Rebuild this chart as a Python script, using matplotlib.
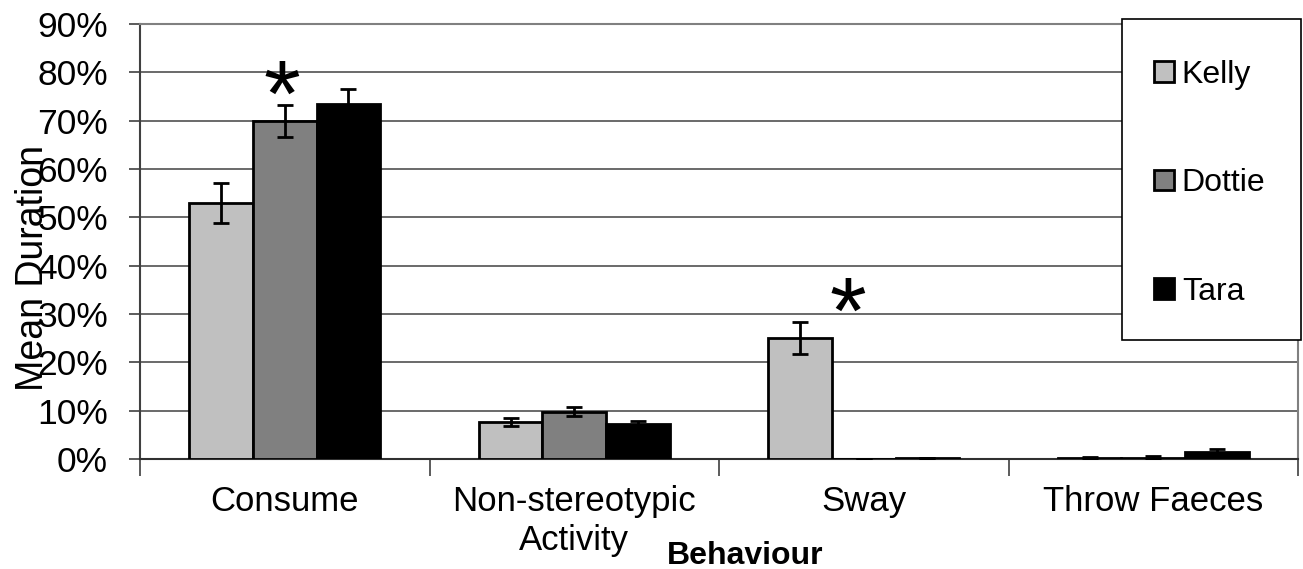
import numpy as np
import matplotlib
matplotlib.use("Agg")
import matplotlib.pyplot as plt
from matplotlib.patches import Rectangle
from matplotlib.ticker import PercentFormatter

plt.rcParams['font.family'] = ['Liberation Sans', 'DejaVu Sans']

categories = ["Consume", "Non-stereotypic\nActivity", "Sway", "Throw Faeces"]
names = ["Kelly", "Dottie", "Tara"]
colors = ["#c0c0c0", "#808080", "#000000"]

kelly = [0.53, 0.077, 0.25, 0.002]
dottie = [0.70, 0.098, 0.0, 0.003]
tara = [0.735, 0.073, 0.003, 0.015]

kelly_err = [0.042, 0.008, 0.033, 0.002]
dottie_err = [0.033, 0.010, 0.0, 0.003]
tara_err = [0.031, 0.005, 0.0, 0.006]

# significance stars: (category index, offset in bar widths, height)
stars = [(0, -0.05, 0.76), (2, -0.25, 0.312)]

fig = plt.figure(figsize=(13.03, 5.69), dpi=100)
ax = fig.add_axes([140 / 1303, 1 - 459 / 569, 1158 / 1303, 435 / 569])

x = np.arange(len(categories))
w = 0.22
series = [kelly, dottie, tara]
errs = [kelly_err, dottie_err, tara_err]
for i, (vals, e) in enumerate(zip(series, errs)):
    pos = x + (i - 1) * w
    ax.bar(pos, vals, width=w, color=colors[i], edgecolor="black",
           linewidth=2, label=names[i], zorder=3)
    ax.errorbar(pos, vals, yerr=e, fmt="none", ecolor="black",
                elinewidth=2, capsize=6, capthick=2, zorder=4)

for ci, off, h in stars:
    ax.text(x[ci] + off * w, h, "*", ha="center", va="center_baseline",
            fontsize=68, zorder=5)

ax.set_xlim(-0.5, len(categories) - 0.5)
ax.set_ylim(0, 0.9)
ax.set_yticks(np.arange(0, 0.91, 0.1))
ax.yaxis.set_major_formatter(PercentFormatter(1.0, decimals=0))
ax.tick_params(axis="y", labelsize=25.5, length=8, width=1.2, direction="out",
               color="#404040", pad=15)
ax.yaxis.grid(True, color="#505050", linewidth=1.2, zorder=0)
ax.set_axisbelow(True)

ax.set_xticks(x)
ax.set_xticklabels(categories, fontsize=25, linespacing=1.2)
ax.tick_params(axis="x", length=0, pad=19)
ax.set_xticks(np.arange(-0.5, len(categories) - 0.4, 1), minor=True)
ax.tick_params(axis="x", which="minor", length=12, width=1.2, color="#404040")

for side in ["left", "right", "top"]:
    ax.spines[side].set_color("#808080")
    ax.spines[side].set_linewidth(1.5)
ax.spines["left"].set_color("#404040")
ax.spines["bottom"].set_color("#303030")
ax.spines["bottom"].set_linewidth(1.5)

# the overlap with the tick labels is as in the original
ax.set_ylabel("Mean Duration", fontsize=27)
ax.yaxis.set_label_coords(-0.077, 0.44)
fig.text(745 / 1303, 5 / 569, "Behaviour", fontsize=23, fontweight="bold",
         ha="center", va="baseline")

# legend box drawn separately (tall, narrow frame)
fig.patches.append(Rectangle((1122 / 1303, 1 - 340 / 569), 179 / 1303, 321 / 569,
                             transform=fig.transFigure, facecolor="white",
                             edgecolor="black", linewidth=1.2, zorder=4))
leg = fig.legend(loc="upper left", bbox_to_anchor=(1154 / 1303, 1 - 60 / 569),
                 fontsize=23, frameon=False, labelspacing=2.45, borderpad=0,
                 handlelength=0.62, handleheight=0.62, handletextpad=0.25,
                 borderaxespad=0)
leg.set_zorder(6)
for p in leg.get_patches():
    p.set_linewidth(2)

fig.savefig("out.png", dpi=100)
